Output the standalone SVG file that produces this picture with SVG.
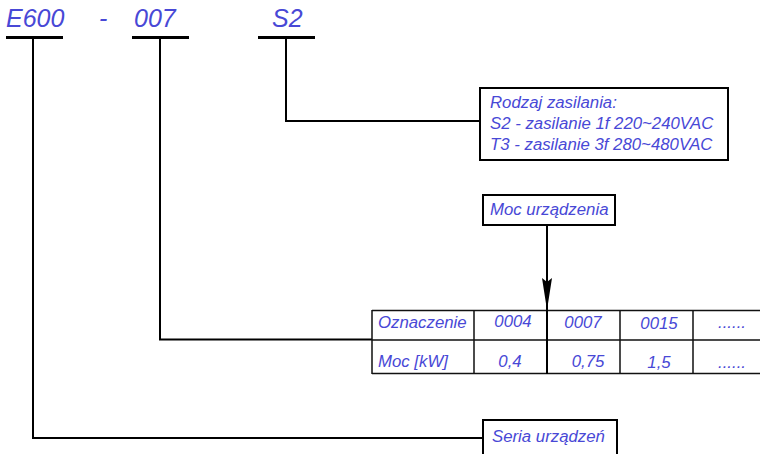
<svg xmlns="http://www.w3.org/2000/svg" width="760" height="454" viewBox="0 0 760 454">
<style>
.t{font-family:"Liberation Sans",Arial,sans-serif;font-style:italic;fill:#4848d6}
.big{font-size:25px}
.sm{font-size:16.8px}
.ul{stroke:#000;stroke-width:3;fill:none}
.ln{stroke:#000;stroke-width:2;fill:none}
.box{stroke:#000;stroke-width:2;fill:#fff}
.grid{stroke:#111;stroke-width:1.5;fill:none}
</style>
<defs>
<marker id="ah" markerWidth="32" markerHeight="10" refX="32" refY="5" orient="auto" markerUnits="userSpaceOnUse" viewBox="0 0 32 10">
<path d="M0,0 L4,5 L0,10 L32,5 Z" fill="#000"/>
</marker>
</defs>
<g id="code">
<text class="t big" x="6" y="27">E600</text>
<text class="t big" x="99" y="27">-</text>
<text class="t big" x="134" y="27">007</text>
<text class="t big" x="272" y="27">S2</text>
<path class="ul" d="M6,37.5H63M132,37.5H189M258,37.5H315"/>
</g>
<g id="connectors">
<path class="ln" d="M33,38V438H483"/>
<path class="ln" d="M160,38V339.5H372"/>
<path class="ln" d="M286,38V121H480"/>
<path class="ln" d="M547,225V310" marker-end="url(#ah)"/>
</g>
<g id="rodzaj">
<rect class="box" x="480" y="88" width="248" height="72"/>
<text class="t sm" x="490" y="108">Rodzaj zasilania:</text>
<text class="t sm" x="490" y="129">S2 - zasilanie 1f 220~240VAC</text>
<text class="t sm" x="490" y="150">T3 - zasilanie 3f 280~480VAC</text>
</g>
<g id="moc">
<rect class="box" x="483" y="195" width="132" height="30"/>
<text class="t sm" x="490" y="215">Moc urządzenia</text>
</g>
<g id="table">
<path class="grid" d="M372,310.5H762M372,340H762M372,373.5H762M372,310V374M474,310V374M620,310V374M693,310V374"/>
<path class="ln" d="M547,310V374"/>
<text class="t sm" x="378" y="328">Oznaczenie</text>
<text class="t sm" x="513" y="327" text-anchor="middle">0004</text>
<text class="t sm" x="583" y="328" text-anchor="middle">0007</text>
<text class="t sm" x="659" y="329" text-anchor="middle">0015</text>
<text class="t sm" x="732" y="328" text-anchor="middle">......</text>
<text class="t sm" x="378" y="367">Moc [kW]</text>
<text class="t sm" x="510" y="367" text-anchor="middle">0,4</text>
<text class="t sm" x="588" y="367" text-anchor="middle">0,75</text>
<text class="t sm" x="659" y="368" text-anchor="middle">1,5</text>
<text class="t sm" x="732" y="368" text-anchor="middle">......</text>
</g>
<g id="seria">
<rect class="box" x="483" y="420" width="134" height="40"/>
<text class="t sm" x="492" y="442">Seria urządzeń</text>
</g>
</svg>
